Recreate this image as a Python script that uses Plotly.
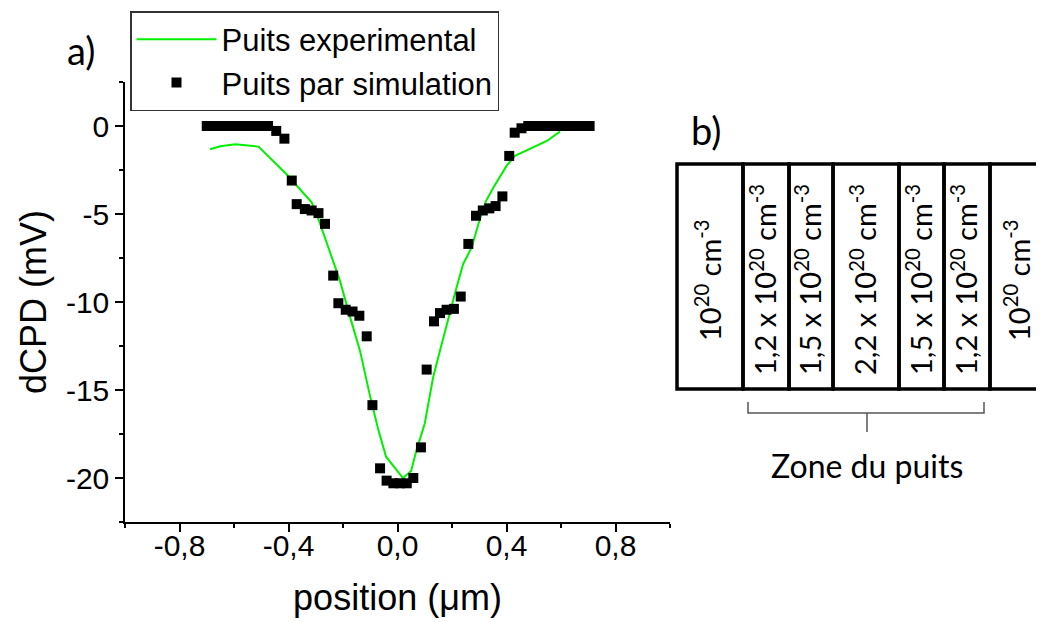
import plotly.graph_objects as go

# --- data ---
exp_x = [-0.688, -0.65, -0.596, -0.51, -0.407, -0.315, -0.29, -0.26, -0.241,
         -0.211, -0.174, -0.138, -0.1, -0.07, -0.042, 0.02, 0.05, 0.07, 0.1,
         0.131, 0.156, 0.187, 0.217, 0.241, 0.272, 0.297, 0.325, 0.352, 0.4,
         0.431, 0.498, 0.548, 0.596]
exp_y = [-1.32, -1.15, -1.04, -1.17, -2.74, -4.34, -5.29, -6.6, -7.4,
         -8.8, -10.86, -12.75, -15.39, -17.28, -18.79, -20.0, -19.6, -18.4, -16.9,
         -14.26, -12.75, -10.86, -9.16, -7.84, -6.9, -5.57, -4.25, -3.5, -2.27,
         -1.7, -1.23, -0.85, -0.32]

sim_x = [-0.7, -0.675, -0.65, -0.625, -0.6, -0.575, -0.55, -0.525, -0.5, -0.475,
         -0.445, -0.415, -0.388, -0.37, -0.34, -0.315, -0.29, -0.266, -0.236,
         -0.217, -0.19, -0.165, -0.14, -0.113, -0.092, -0.064, -0.04, -0.015,
         0.009, 0.034, 0.058, 0.086, 0.107, 0.134, 0.156, 0.18, 0.207, 0.232,
         0.26, 0.288, 0.313, 0.337, 0.36, 0.385, 0.41, 0.43, 0.455,
         0.48, 0.505, 0.53, 0.555, 0.58, 0.605, 0.63, 0.655, 0.68, 0.705]
sim_y = [0, 0, 0, 0, 0, 0, 0, 0, 0, 0,
         -0.28, -0.72, -3.1, -4.44, -4.72, -4.8, -4.95, -5.56, -8.5,
         -10.07, -10.44, -10.54, -10.78, -11.95, -15.86, -19.45, -20.15, -20.3,
         -20.3, -20.3, -20.0, -18.26, -13.84, -11.1, -10.63, -10.44, -10.39, -9.69,
         -6.7, -5.1, -4.8, -4.68, -4.55, -4.0, -1.7, -0.38, -0.13,
         0, 0, 0, 0, 0, 0, 0, 0, 0, 0]

x_tick_vals = [-0.8, -0.4, 0.0, 0.4, 0.8]
x_tick_text = ["-0,8", "-0,4", "0,0", "0,4", "0,8"]
y_tick_vals = [-20, -15, -10, -5, 0]
y_tick_text = ["-20", "-15", "-10", "-5", "0"]

layer_labels = [
    "10<sup>20</sup> cm<sup>-3</sup>",
    "1,2 x 10<sup>20</sup> cm<sup>-3</sup>",
    "1,5 x 10<sup>20</sup> cm<sup>-3</sup>",
    "2,2 x 10<sup>20</sup> cm<sup>-3</sup>",
    "1,5 x 10<sup>20</sup> cm<sup>-3</sup>",
    "1,2 x 10<sup>20</sup> cm<sup>-3</sup>",
    "10<sup>20</sup> cm<sup>-3</sup>",
]

# --- layout: plot area in screen pixels (page body adds an 8px offset) ---
W, H = 1044, 622
OFF = 8
PL, PR, PT, PB = 125, 670, 82, 522


def fx(px):
    return (px - PL) / (PR - PL)


def fy(py):
    return (PB - py) / (PB - PT)


def label(fig, text, px, py, size, angle=0):
    fig.add_annotation(text=text, x=fx(px), y=fy(py), xref="paper", yref="paper",
                       xanchor="center", yanchor="middle", showarrow=False,
                       textangle=angle, font=dict(family="Lato", size=size, color="black"))


# cell edges of the b) sketch, in screen pixels
cell_edges = [677, 743, 789, 833, 899, 944, 990, 1070]
text_x = [708, 763, 808, 863, 919, 964, 1017]
cell_top, cell_bottom = 164, 389

fig = go.Figure()

fig.add_trace(go.Scatter(
    x=exp_x, y=exp_y, mode="lines", name="Puits experimental",
    line=dict(color="#00f000", width=2),
))
fig.add_trace(go.Scatter(
    x=sim_x, y=sim_y, mode="markers", name="Puits par simulation",
    marker=dict(symbol="square", size=10, color="black"),
))

axis_font = dict(family="Liberation Sans, Arial", size=30, color="black")

fig.update_layout(
    width=W, height=H,
    margin=dict(l=PL - OFF, r=W - (PR - OFF), t=PT - OFF, b=H - (PB - OFF),
                autoexpand=False),
    paper_bgcolor="white", plot_bgcolor="white",
    font=dict(family="Liberation Sans, Arial", color="black"),
    xaxis=dict(
        range=[-1, 1], automargin=False,
        showline=True, linecolor="black", linewidth=1.5,
        ticks="outside", ticklen=8, tickwidth=1.5, tickcolor="black",
        tickvals=x_tick_vals, ticktext=x_tick_text, tickfont=axis_font,
        ticklabelstandoff=-12,
        minor=dict(dtick=0.2, tick0=0, ticks="outside", ticklen=4,
                   tickwidth=1.5, tickcolor="black"),
        showgrid=False, zeroline=False,
        title=dict(text="position (\u03bcm)", font=dict(size=36), standoff=24),
    ),
    yaxis=dict(
        range=[-22.5, 2.5], automargin=False,
        showline=True, linecolor="black", linewidth=1.5,
        ticks="outside", ticklen=8, tickwidth=1.5, tickcolor="black",
        tickvals=y_tick_vals, ticktext=y_tick_text, tickfont=axis_font,
        minor=dict(dtick=2.5, tick0=0, ticks="outside", ticklen=4,
                   tickwidth=1.5, tickcolor="black"),
        showgrid=False, zeroline=False,
        title=dict(text="dCPD (mV)", font=dict(size=36), standoff=8),
    ),
    legend=dict(
        x=fx(130), y=fy(11), xanchor="left", yanchor="top",
        bgcolor="white", bordercolor="#333", borderwidth=1.5,
        font=dict(family="Liberation Sans, Arial", size=31),
        itemwidth=80, tracegroupgap=0,
    ),
)

# panel labels
label(fig, "a)", 81, 50, 38)
label(fig, "b)", 706, 130, 38)

# b) sketch: doping layers
for i, txt in enumerate(layer_labels):
    x0, x1 = cell_edges[i], cell_edges[i + 1]
    fig.add_shape(type="rect", xref="paper", yref="paper",
                  x0=fx(x0), x1=fx(x1), y0=fy(cell_bottom), y1=fy(cell_top),
                  line=dict(color="black", width=3.5))
    label(fig, txt, text_x[i], 280, 29, angle=-90)

# brace under the well zone
bl, br, bt, bm, bc, bd = 748, 984, 402, 413, 867, 432
path = (f"M {fx(bl)},{fy(bt)} L {fx(bl)},{fy(bm)} L {fx(br)},{fy(bm)} L {fx(br)},{fy(bt)} "
        f"M {fx(bc)},{fy(bm)} L {fx(bc)},{fy(bd)}")
fig.add_shape(type="path", xref="paper", yref="paper", path=path,
              line=dict(color="#555", width=1.5))
label(fig, "Zone du puits", 867, 465, 32)

fig.write_html("out.html")
